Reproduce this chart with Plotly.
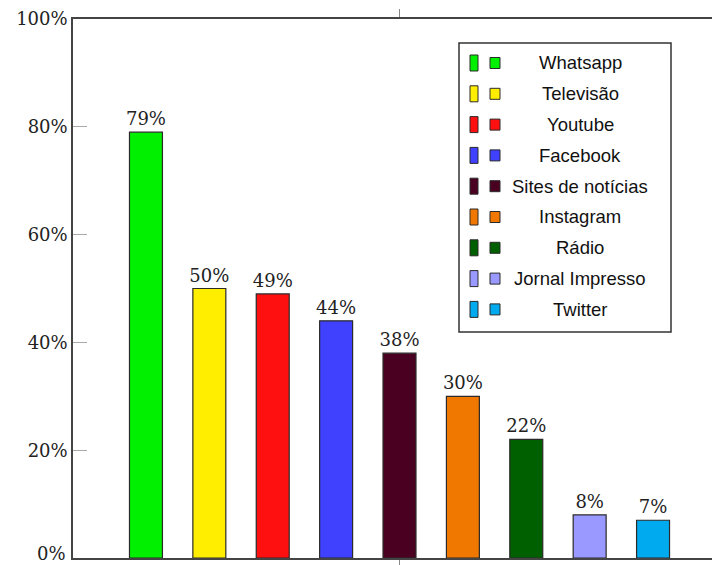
import plotly.graph_objects as go

categories = ["Whatsapp", "Televisão", "Youtube", "Facebook", "Sites de notícias",
              "Instagram", "Rádio", "Jornal Impresso", "Twitter"]
values = [79, 50, 49, 44, 38, 30, 22, 8, 7]
colors = ["#00F000", "#FFEE00", "#FF1010", "#4040FF", "#4A0020",
          "#F07800", "#006000", "#9999FF", "#00AAEE"]
y_ticks = [0, 20, 40, 60, 80, 100]
y_tick_labels = [f"{v}%" for v in y_ticks]

W, H = 712, 565
L, T, B, R = 73, 19, 7, 0
pw, ph = W - L - R, H - T - B

def px_x(p):
    return (p - L) / pw

def px_y(p):
    return (H - B - p) / ph

fig = go.Figure()
fig.add_trace(go.Bar(
    x=categories, y=values,
    marker=dict(color=colors, line=dict(color="#2a2a2a", width=1.2)),
    width=0.52,
    text=[f"{v}%" for v in values],
    textposition="outside",
    constraintext="none",
    textfont=dict(family="DejaVu Serif", size=18, color="#222"),
    cliponaxis=False,
    showlegend=False,
    hoverinfo="skip",
))

shapes = []
annotations = []
# legend box
bx0, bx1, by0, by1 = 459, 671, 43, 332
shapes.append(dict(type="rect", xref="paper", yref="paper",
                   x0=px_x(bx0), x1=px_x(bx1), y0=px_y(by1), y1=px_y(by0),
                   line=dict(color="#333", width=1.5), fillcolor="white", layer="above"))
row0, step = 63, 30.8
for i, (name, c) in enumerate(zip(categories, colors)):
    cy = row0 + i * step
    shapes.append(dict(type="rect", xref="paper", yref="paper",
                       x0=px_x(470), x1=px_x(478), y0=px_y(cy + 8), y1=px_y(cy - 8),
                       line=dict(color="#2a2a2a", width=1), fillcolor=c, layer="above"))
    shapes.append(dict(type="rect", xref="paper", yref="paper",
                       x0=px_x(490), x1=px_x(500), y0=px_y(cy + 5.5), y1=px_y(cy - 5.5),
                       line=dict(color="#2a2a2a", width=1), fillcolor=c, layer="above"))
    annotations.append(dict(xref="paper", yref="paper", x=px_x(580), y=px_y(cy),
                            text=name, showarrow=False, xanchor="center", yanchor="middle",
                            font=dict(family="Liberation Sans", size=18.5, color="#111")))

# bottom tick label drawn slightly raised so it stays inside the page
annotations.append(dict(xref="paper", yref="paper", x=0, y=px_y(565),
                        text=y_tick_labels[0], showarrow=False, xanchor="right",
                        yanchor="bottom", xshift=-6, borderpad=0,
                        font=dict(family="DejaVu Serif", size=18, color="#222")))

fig.update_layout(
    width=W, height=H,
    margin=dict(l=L, r=R, t=T, b=B, pad=0, autoexpand=False),
    paper_bgcolor="white", plot_bgcolor="white",
    shapes=shapes, annotations=annotations,
    showlegend=False,
    xaxis=dict(
        type="category",
        range=[-1.151, 8.93],
        tickvals=[categories[4]], ticktext=[""],
        ticks="outside", ticklen=8, tickcolor="#888", tickwidth=1,
        showline=True, linecolor="#444", linewidth=1.5, mirror="ticks",
        showgrid=False, zeroline=False, automargin=False,
    ),
    yaxis=dict(
        range=[0, 100],
        tickvals=y_ticks, ticktext=[""] + y_tick_labels[1:],
        ticks="inside", ticklen=14, tickcolor="#aaa", tickwidth=1,
        tickfont=dict(family="DejaVu Serif", size=18, color="#222"),
        showline=True, linecolor="#444", linewidth=1.5,
        showgrid=False, zeroline=False, automargin=False,
    ),
)

fig.write_html("out.html")
